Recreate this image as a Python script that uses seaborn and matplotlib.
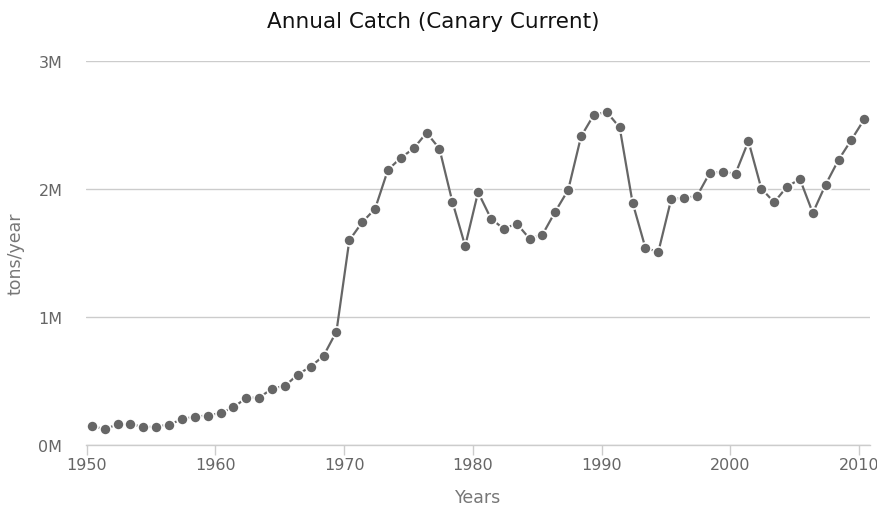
import matplotlib
matplotlib.use("Agg")
import matplotlib.pyplot as plt
import seaborn as sns
import numpy as np
import pandas as pd

# Annual catch in the Canary Current large marine ecosystem (tons per year)
years = list(range(1950, 2011))
catch_millions = [
    0.149, 0.123, 0.162, 0.165, 0.139, 0.143, 0.159, 0.201, 0.222, 0.230,
    0.250, 0.295, 0.368, 0.370, 0.441, 0.462, 0.551, 0.613, 0.697, 0.887,
    1.600, 1.741, 1.846, 2.151, 2.245, 2.318, 2.441, 2.316, 1.903, 1.556,
    1.976, 1.770, 1.689, 1.731, 1.613, 1.644, 1.825, 1.994, 2.412, 2.582,
    2.602, 2.482, 1.895, 1.540, 1.509, 1.921, 1.932, 1.945, 2.128, 2.133,
    2.122, 2.375, 2.005, 1.897, 2.020, 2.078, 1.814, 2.036, 2.229, 2.386,
    2.547,
]
y_ticks = [0, 1_000_000, 2_000_000, 3_000_000]
y_tick_labels = ["0M", "1M", "2M", "3M"]
x_ticks = [1950, 1960, 1970, 1980, 1990, 2000, 2010]

df = pd.DataFrame({
    # each yearly total is placed near the middle of its year
    "year": np.array(years) + 0.4,
    "catch": np.array(catch_millions) * 1_000_000,
})

sns.set_theme(style="white")
plt.rcParams["font.family"] = ["DejaVu Sans"]

fig = plt.figure(figsize=(8.78, 5.10), dpi=100)
ax = fig.add_axes([0.098, 0.1255, 0.893, 0.7525])

line_color = "#666666"
sns.lineplot(
    data=df, x="year", y="catch", ax=ax,
    color=line_color, linewidth=1.6,
    marker="o", markersize=8, markerfacecolor=line_color,
    markeredgecolor="white", markeredgewidth=1.2,
    zorder=3,
)

ax.set_xlim(1949.95, 2010.85)
ax.set_ylim(0, 3_000_000)

ax.set_yticks(y_ticks)
ax.set_yticklabels(y_tick_labels)
ax.set_xticks(x_ticks)
ax.set_xticklabels([str(t) for t in x_ticks])

ax.grid(axis="y", color="#cccccc", linewidth=1.0)
ax.grid(axis="x", visible=False)
ax.set_axisbelow(True)

for side in ["top", "right", "left"]:
    ax.spines[side].set_visible(False)
ax.spines["bottom"].set_color("#cccccc")
ax.spines["bottom"].set_linewidth(1.0)

ax.tick_params(axis="x", colors="#cccccc", length=7, width=1, pad=2,
               labelcolor="#666666", labelsize=11.5, bottom=True)
ax.tick_params(axis="y", length=0, pad=17, labelcolor="#666666", labelsize=11.5)

ax.set_xlabel("Years", fontsize=12.5, color="#777777", labelpad=11)
ax.set_ylabel("tons/year", fontsize=12.5, color="#777777", labelpad=10)

fig.text(0.493, 0.957, "Annual Catch (Canary Current)", ha="center", va="center",
         fontsize=15.5, color="#111111")

fig.savefig("out.png", dpi=100)
